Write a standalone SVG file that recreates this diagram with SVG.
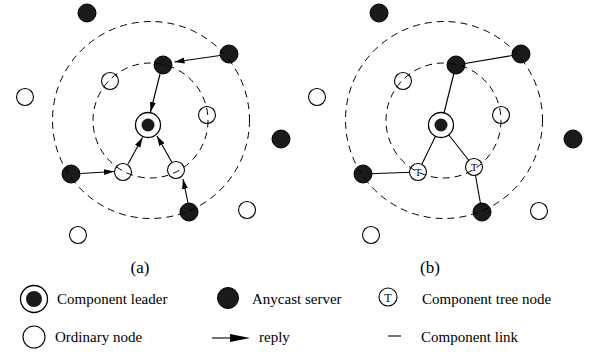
<svg xmlns="http://www.w3.org/2000/svg" width="589" height="352" viewBox="0 0 589 352">
<style>
.bg{fill:#fff}
.any{fill:#1a1a1a;stroke:#000;stroke-width:1}
.ord{fill:#fff;stroke:#000;stroke-width:1.1}
.ldo{fill:#fff;stroke:#000;stroke-width:1.3}
.ldi{fill:#1a1a1a}
.ring{fill:none;stroke:#000;stroke-width:1;stroke-dasharray:7 5}
.ln{stroke:#000;stroke-width:1.1;fill:none}
.arr{stroke:#000;stroke-width:1.1;fill:none;marker-end:url(#ah)}
.t{font-family:"Liberation Serif","Times New Roman",serif;fill:#000}
.lg{font-size:15px}
.cap{font-size:17px}
.tn{font-size:11px;text-anchor:middle}
</style>
<defs>
<marker id="ah" markerUnits="userSpaceOnUse" markerWidth="11" markerHeight="7" refX="10" refY="3" orient="auto">
<path d="M0,0 L10,3 L0,6 z" fill="#000"/>
</marker>
</defs>
<rect class="bg" x="0" y="0" width="589" height="352"/>

<g id="connectors">
<line class="arr" x1="220" y1="55.5" x2="174.5" y2="62"/>
<line class="arr" x1="160" y1="74" x2="150.5" y2="112"/>
<line class="arr" x1="80.5" y1="173.5" x2="114" y2="171.5"/>
<line class="arr" x1="128" y1="164" x2="142.5" y2="137.5"/>
<line class="arr" x1="172" y1="162.5" x2="157" y2="136"/>
<line class="arr" x1="188" y1="203" x2="183" y2="179"/>
<line class="ln" x1="521" y1="54" x2="456" y2="65"/>
<line class="ln" x1="456" y1="65" x2="441" y2="125"/>
<line class="ln" x1="441" y1="125" x2="418" y2="172"/>
<line class="ln" x1="441" y1="125" x2="474" y2="167"/>
<line class="ln" x1="363" y1="174" x2="418" y2="172"/>
<line class="ln" x1="474" y1="167" x2="482" y2="212"/>
</g>

<g id="panel-a">
<g id="a-any1"><circle class="any" cx="87" cy="13" r="9"/></g>
<g id="a-any2"><circle class="any" cx="229" cy="54" r="9"/></g>
<g id="a-any3"><circle class="any" cx="163" cy="65" r="9"/></g>
<g id="a-any4"><circle class="any" cx="281" cy="139" r="9"/></g>
<g id="a-any5"><circle class="any" cx="71" cy="174" r="9"/></g>
<g id="a-any6"><circle class="any" cx="189" cy="212" r="9"/></g>
<g id="a-ord1"><circle class="ord" cx="110" cy="81" r="8.5"/></g>
<g id="a-ord2"><circle class="ord" cx="25" cy="97" r="8.5"/></g>
<g id="a-ord3"><circle class="ord" cx="207" cy="115" r="8.5"/></g>
<g id="a-ord4"><circle class="ord" cx="123" cy="172" r="8.5"/></g>
<g id="a-ord5"><circle class="ord" cx="176" cy="170" r="8.5"/></g>
<g id="a-ord6"><circle class="ord" cx="247" cy="210" r="8.5"/></g>
<g id="a-ord7"><circle class="ord" cx="78" cy="235" r="8.5"/></g>
<g id="a-leader"><circle class="ldo" cx="148" cy="125" r="12.5"/><circle class="ldi" cx="148" cy="125" r="6.5"/></g>
<g id="a-rings">
<circle class="ring" cx="151" cy="120" r="98.5"/>
<circle class="ring" cx="150.5" cy="120.5" r="57.5"/>
</g>
<text class="t cap" x="140" y="273" text-anchor="middle">(a)</text>
</g>

<g id="panel-b">
<g id="b-any1"><circle class="any" cx="379" cy="13" r="9"/></g>
<g id="b-any2"><circle class="any" cx="521" cy="54" r="9"/></g>
<g id="b-any3"><circle class="any" cx="456" cy="65" r="9"/></g>
<g id="b-any4"><circle class="any" cx="573" cy="139" r="9"/></g>
<g id="b-any5"><circle class="any" cx="363" cy="174" r="9"/></g>
<g id="b-any6"><circle class="any" cx="482" cy="212" r="9"/></g>
<g id="b-ord1"><circle class="ord" cx="403" cy="81" r="8.5"/></g>
<g id="b-ord2"><circle class="ord" cx="317" cy="97" r="8.5"/></g>
<g id="b-ord3"><circle class="ord" cx="501" cy="115" r="8.5"/></g>
<g id="b-ord6"><circle class="ord" cx="539" cy="211" r="8.5"/></g>
<g id="b-ord7"><circle class="ord" cx="371" cy="235" r="8.5"/></g>
<g id="b-tree1"><circle class="ord" cx="418" cy="172" r="8.5"/><text class="t tn" x="418" y="176">T</text></g>
<g id="b-tree2"><circle class="ord" cx="474" cy="167" r="8.5"/><text class="t tn" x="474" y="171">T</text></g>
<g id="b-leader"><circle class="ldo" cx="441" cy="125" r="12.5"/><circle class="ldi" cx="441" cy="125" r="6.5"/></g>
<g id="b-rings">
<circle class="ring" cx="444" cy="120" r="98.5"/>
<circle class="ring" cx="443.5" cy="120.5" r="57.5"/>
</g>
<text class="t cap" x="430" y="273" text-anchor="middle">(b)</text>
</g>

<g id="legend">
<g id="lg-leader"><circle class="ldo" cx="34" cy="299" r="13.5"/><circle class="ldi" cx="34" cy="299" r="8"/>
<text class="t lg" x="57" y="304">Component leader</text></g>
<g id="lg-any"><circle class="any" cx="228" cy="298" r="10.5"/>
<text class="t lg" x="252" y="304">Anycast server</text></g>
<g id="lg-tree"><circle class="ord" cx="388" cy="297" r="9"/><text class="t" x="388" y="301.5" font-size="12" text-anchor="middle">T</text>
<text class="t lg" x="422" y="304">Component tree node</text></g>
<g id="lg-ord"><circle class="ord" cx="34" cy="337" r="11"/>
<text class="t lg" x="55" y="342">Ordinary node</text></g>
<g id="lg-reply"><line class="ln" x1="212" y1="338" x2="232" y2="338"/><polygon points="230,334 250,338 230,342" fill="#000"/>
<text class="t lg" x="259" y="342">reply</text></g>
<g id="lg-link"><line class="ln" x1="388" y1="336" x2="401" y2="336"/>
<text class="t lg" x="421" y="342">Component link</text></g>
</g>
</svg>
